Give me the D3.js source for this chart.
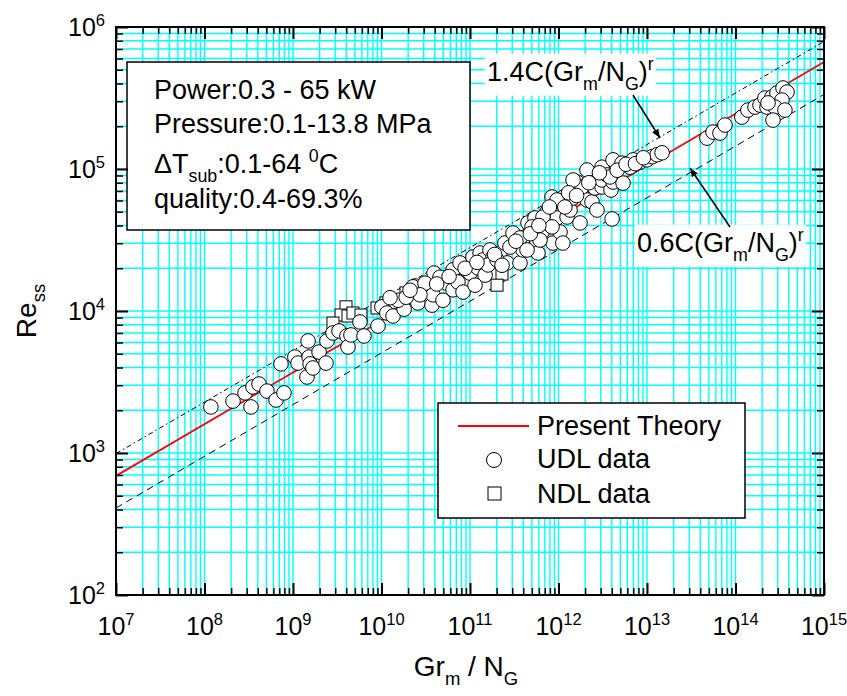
<!DOCTYPE html>
<html>
<head>
<meta charset="utf-8">
<script src="https://cdnjs.cloudflare.com/ajax/libs/d3/7.8.5/d3.min.js"></script>
<style>
    body { margin: 0; background: #fff; }
    svg text { font-family: "Liberation Sans", Arial, sans-serif; fill: #000; }
</style>
</head>
<body>
<div id="chart"></div>
<script>

// UDL data (circles)
const udlX = [1.18e8, 2.10e8, 3.35e8, 2.87e8, 3.53e8, 4.13e8, 5.08e8, 6.43e8, 7.91e8, 7.31e8,
    1.05e9, 1.14e9, 1.44e9, 1.52e9, 1.56e9, 1.48e9, 1.68e9, 1.97e9, 2.36e9, 2.42e9,
    2.83e9, 3.31e9, 4.07e9, 4.18e9, 4.52e9, 5.71e9, 6.34e9, 9.13e9, 1.01e10, 1.15e10,
    1.35e10, 1.80e10, 2.39e10, 2.58e10, 3.18e10, 3.72e10, 3.82e10, 3.92e10, 4.95e10, 5.22e10,
    2.27e10, 3.10e10, 4.58e10, 5.50e10, 6.43e10, 6.43e10, 7.71e10, 9.25e10, 1.00e11, 1.08e11,
    1.23e11, 1.30e11, 1.40e11, 1.48e11, 1.68e11, 1.82e11, 2.18e11, 2.48e11, 2.62e11, 3.06e11,
    3.40e11, 3.67e11, 3.97e11, 4.18e11, 4.52e11, 5.42e11, 5.71e11, 5.86e11, 6.52e11, 7.41e11,
    7.41e11, 8.45e11, 8.67e11, 9.62e11, 1.04e12, 1.04e12, 1.12e12, 1.15e12, 1.25e12, 1.35e12,
    1.46e12, 1.62e12, 1.75e12, 1.84e12, 2.10e12, 2.10e12, 2.39e12, 2.58e12, 2.72e12, 3.10e12,
    3.10e12, 3.10e12, 3.53e12, 3.92e12, 4.03e12, 4.13e12, 4.13e12, 5.22e12, 5.36e12, 6.43e12,
    6.95e12, 8.34e12, 1.00e13, 1.14e13, 1.30e13, 1.48e13, 3.82e12,
    4.76e13, 5.57e13, 6.68e13, 7.60e13, 1.18e14, 1.38e14, 1.66e14, 1.89e14, 2.15e14, 2.27e14,
    2.58e14, 2.94e14, 3.44e14, 3.82e14, 3.35e14, 2.79e14, 3.62e14, 2.65e14, 2.33e14,
    1.54e10, 2.72e10, 1.25e10, 7.31e10, 8.34e10, 1.14e11, 1.60e11, 2.02e11, 2.83e11, 5.02e11,
    6.68e11, 9.62e11, 1.18e12, 1.84e12, 1.46e12, 6.18e11, 8.45e11, 3.67e11, 4.41e11,
    1.9e10, 2.1e10, 4.2e10, 5.8e10, 8.8e10, 1.2e11, 1.9e11, 2.3e11, 3.3e11, 4.8e11,
    6.0e11, 7.9e11, 1.3e12, 1.6e12, 2.2e12, 2.9e12, 4.6e12, 5.8e12, 7.4e12, 9.1e12];
const udlY = [2.11e3, 2.32e3, 2.11e3, 2.65e3, 2.92e3, 3.06e3, 2.73e3, 2.36e3, 2.65e3, 4.24e3,
    4.74e3, 4.30e3, 3.43e3, 4.74e3, 4.24e3, 6.15e3, 3.97e3, 5.14e3, 4.30e3, 6.15e3,
    7.00e3, 7.23e3, 6.67e3, 5.58e3, 6.78e3, 8.37e3, 6.67e3, 7.84e3, 1.07e4, 9.68e3,
    9.22e3, 1.03e4, 1.50e4, 1.14e4, 1.48e4, 1.10e4, 1.30e4, 1.85e4, 1.19e4, 1.71e4,
    1.48e4, 1.57e4, 1.73e4, 1.57e4, 1.41e4, 1.95e4, 2.18e4, 1.65e4, 1.85e4, 2.40e4,
    2.01e4, 2.56e4, 2.29e4, 1.79e4, 2.69e4, 2.40e4, 2.56e4, 3.01e4, 2.18e4, 3.54e4,
    3.01e4, 2.18e4, 2.69e4, 3.32e4, 4.17e4, 4.52e4, 3.06e4, 2.56e4, 3.60e4, 4.98e4,
    4.17e4, 6.35e4, 3.01e4, 4.52e4, 5.86e4, 3.60e4, 3.01e4, 6.35e4, 4.59e4, 5.14e4,
    6.25e4, 8.09e4, 4.17e4, 7.11e4, 9.84e4, 6.05e4, 5.86e4, 7.35e4, 5.14e4, 1.03e5,
    7.47e4, 8.37e4, 9.08e4, 7.11e4, 4.45e4, 8.09e4, 1.16e5, 1.10e5, 7.96e4, 1.03e5,
    1.16e5, 1.12e5, 1.16e5, 1.22e5, 1.26e5, 1.30e5, 8.79e4,
    1.65e5, 1.82e5, 1.79e5, 2.04e5, 2.32e5, 2.60e5, 2.73e5, 2.82e5, 3.16e5, 2.73e5,
    3.21e5, 3.43e5, 3.72e5, 3.48e5, 3.06e5, 2.73e5, 2.60e5, 2.21e5, 2.92e5,
    1.19e4, 1.30e4, 1.24e4, 1.60e4, 1.36e4, 1.52e4, 2.11e4, 2.29e4, 2.82e4, 3.91e4,
    4.59e4, 6.05e4, 5.40e4, 7.47e4, 8.37e4, 3.16e4, 3.91e4, 3.27e4, 2.69e4,
    1.25e4, 1.40e4, 1.55e4, 1.75e4, 2.0e4, 2.2e4, 2.5e4, 2.1e4, 3.1e4, 3.5e4,
    4.0e4, 5.4e4, 6.8e4, 6.5e4, 8.0e4, 9.4e4, 9.8e4, 1.08e5, 1.09e5, 1.20e5];

// NDL data (squares)
const ndlX = [3.97e9, 3.49e9, 2.83e9, 4.18e9, 4.76e9, 5.86e9, 8.89e9, 1.12e10, 1.42e10, 1.89e10, 2.30e11, 2.02e11];
const ndlY = [1.07e4, 9.37e3, 8.23e3, 9.22e3, 9.68e3, 9.37e3, 1.05e4, 1.14e4, 1.14e4, 1.34e4, 1.82e4, 1.52e4];

// straight lines on log-log axes, end points read at the frame edges
const lineX = [1e7, 1e15];
const theoryY = [690, 5.67e5];
const upperY = [990, 7.9e5];
const lowerY = [410, 3.35e5];

const xDomain = [1e7, 1e15];
const yDomain = [1e2, 1e6];
const xTickExps = [7, 8, 9, 10, 11, 12, 13, 14, 15];
const yTickExps = [2, 3, 4, 5, 6];

const infoLines = [
    [{t: "Power:0.3 - 65 kW"}],
    [{t: "Pressure:0.1-13.8 MPa"}],
    [{t: "\u0394T"}, {t: "sub", sub: true}, {t: ":0.1-64 "}, {t: "0", sup: true}, {t: "C"}],
    [{t: "quality:0.4-69.3%"}]
];
const legendItems = ["Present Theory", "UDL data", "NDL data"];


function richText(parent, parts, x, y, size, anchor) {
    let t = parent.append("text")
        .attr("x", x)
        .attr("y", y)
        .attr("font-size", size)
        .attr("text-anchor", anchor || "start");
    let shift = 0;
    parts.forEach(p => {
        let target = p.sub ? size * 0.32 : (p.sup ? -size * 0.42 : 0);
        t.append("tspan")
            .attr("dy", target - shift)
            .attr("font-size", (p.sub || p.sup) ? size * 0.66 : size)
            .text(p.t);
        shift = target;
    });
    return t;
}

function withBackground(parent, textSel, pad) {
    let b = textSel.node().getBBox();
    parent.insert("rect", () => textSel.node())
        .attr("x", b.x - pad)
        .attr("y", b.y - pad + 2)
        .attr("width", b.width + pad * 2)
        .attr("height", b.height + pad * 2 - 2)
        .attr("fill", "#fff");
}

const totalW = 847, totalH = 696;
const margin = {top: 27, right: 23, bottom: 101, left: 116};
const width = totalW - margin.left - margin.right;
const height = totalH - margin.top - margin.bottom;

const svg = d3.select("#chart").append("svg")
    .attr("width", totalW)
    .attr("height", totalH);

const plot = svg.append("g")
    .attr("transform", `translate(${margin.left},${margin.top})`);

const xScale = d3.scaleLog().domain(xDomain).range([0, width]);
const yScale = d3.scaleLog().domain(yDomain).range([height, 0]);

const xAll = xScale.ticks();
const yAll = yScale.ticks();
const xMajor = xTickExps.map(e => Math.pow(10, e));
const yMajor = yTickExps.map(e => Math.pow(10, e));
const isMajor = v => Math.abs(Math.log10(v) - Math.round(Math.log10(v))) < 1e-9;

// cyan grid
plot.append("g").selectAll("line")
    .data(xAll)
    .join("line")
    .attr("x1", d => xScale(d)).attr("x2", d => xScale(d))
    .attr("y1", 0).attr("y2", height)
    .attr("stroke", "#00ffff").attr("stroke-width", 1.4);

plot.append("g").selectAll("line")
    .data(yAll)
    .join("line")
    .attr("y1", d => yScale(d)).attr("y2", d => yScale(d))
    .attr("x1", 0).attr("x2", width)
    .attr("stroke", "#00ffff").attr("stroke-width", 1.4);

// lines
const line = d3.line()
    .x(d => xScale(d[0]))
    .y(d => yScale(d[1]));

plot.append("path")
    .datum(d3.zip(lineX, upperY))
    .attr("fill", "none").attr("stroke", "#000").attr("stroke-width", 1)
    .attr("stroke-dasharray", "5,3,1.5,3")
    .attr("d", line);

plot.append("path")
    .datum(d3.zip(lineX, lowerY))
    .attr("fill", "none").attr("stroke", "#000").attr("stroke-width", 1)
    .attr("stroke-dasharray", "7,5")
    .attr("d", line);

plot.append("path")
    .datum(d3.zip(lineX, theoryY))
    .attr("fill", "none").attr("stroke", "#ff0000").attr("stroke-width", 1.8)
    .attr("d", line);

// points
const sq = 12;
plot.append("g").selectAll("rect")
    .data(d3.zip(ndlX, ndlY))
    .join("rect")
    .attr("x", d => xScale(d[0]) - sq / 2)
    .attr("y", d => yScale(d[1]) - sq / 2)
    .attr("width", sq).attr("height", sq)
    .attr("fill", "#fff").attr("stroke", "#000").attr("stroke-width", 1);

plot.append("g").selectAll("circle")
    .data(d3.zip(udlX, udlY))
    .join("circle")
    .attr("cx", d => xScale(d[0]))
    .attr("cy", d => yScale(d[1]))
    .attr("r", 7.3)
    .attr("fill", "#fff").attr("stroke", "#000").attr("stroke-width", 1);

// info box
const info = plot.append("g");
info.append("rect")
    .attr("x", 11).attr("y", 35)
    .attr("width", 343).attr("height", 168)
    .attr("fill", "#fff").attr("stroke", "#000").attr("stroke-width", 1.5);
const infoBase = [72, 106, 146, 181];
infoLines.forEach((parts, i) => richText(info, parts, 38, infoBase[i], 27));

// annotations
const notes = plot.append("g");
const n1 = richText(notes, [{t: "1.4C(Gr"}, {t: "m", sub: true}, {t: "/N"}, {t: "G", sub: true}, {t: ")"}, {t: "r", sup: true}], 371, 54, 27);
withBackground(notes, n1, 2);
const n2 = richText(notes, [{t: "0.6C(Gr"}, {t: "m", sub: true}, {t: "/N"}, {t: "G", sub: true}, {t: ")"}, {t: "r", sup: true}], 521, 225, 27);
withBackground(notes, n2, 2);

svg.append("defs").append("marker")
    .attr("id", "head")
    .attr("viewBox", "0 0 10 10")
    .attr("refX", 10).attr("refY", 5)
    .attr("markerWidth", 9).attr("markerHeight", 9)
    .attr("markerUnits", "userSpaceOnUse")
    .attr("orient", "auto")
    .append("path")
    .attr("d", "M0,1 L10,5 L0,9 Z")
    .attr("fill", "#000");

notes.append("line")
    .attr("x1", 517).attr("y1", 68).attr("x2", 544).attr("y2", 111)
    .attr("stroke", "#000").attr("stroke-width", 1.5)
    .attr("marker-end", "url(#head)");
notes.append("line")
    .attr("x1", 614).attr("y1", 200).attr("x2", 574).attr("y2", 141)
    .attr("stroke", "#000").attr("stroke-width", 1.5)
    .attr("marker-end", "url(#head)");

// legend
const legend = plot.append("g").attr("transform", "translate(322,376)");
legend.append("rect")
    .attr("width", 307).attr("height", 115)
    .attr("fill", "#fff").attr("stroke", "#000").attr("stroke-width", 1.5);
legend.append("line")
    .attr("x1", 20).attr("x2", 91).attr("y1", 23).attr("y2", 23)
    .attr("stroke", "#ff0000").attr("stroke-width", 1.8);
legend.append("circle")
    .attr("cx", 56).attr("cy", 57).attr("r", 7.5)
    .attr("fill", "#fff").attr("stroke", "#000").attr("stroke-width", 1);
legend.append("rect")
    .attr("x", 50).attr("y", 84).attr("width", 13).attr("height", 13)
    .attr("fill", "#fff").attr("stroke", "#000").attr("stroke-width", 1);
legendItems.forEach((name, i) => {
    legend.append("text")
        .attr("x", 99).attr("y", [32, 65, 100][i])
        .attr("font-size", 27)
        .text(name);
});

// axes: ticks inward on all four sides
function drawAxis(axisFn, scale, values, size, transform) {
    let g = plot.append("g")
        .attr("transform", transform)
        .call(axisFn(scale).tickValues(values).tickSize(size).tickSizeOuter(0).tickFormat(""));
    g.select(".domain").remove();
    g.selectAll(".tick line").attr("stroke", "#000").attr("stroke-width", size === -12 ? 2 : 1.5);
    return g;
}

const xMinor = xAll.filter(v => !isMajor(v));
const yMinor = yAll.filter(v => !isMajor(v));

drawAxis(d3.axisBottom, xScale, xMinor, -7, `translate(0,${height})`);
drawAxis(d3.axisBottom, xScale, xMajor, -12, `translate(0,${height})`);
drawAxis(d3.axisTop, xScale, xMinor, -7, "translate(0,0)");
drawAxis(d3.axisTop, xScale, xMajor, -12, "translate(0,0)");
drawAxis(d3.axisLeft, yScale, yMinor, -7, "translate(0,0)");
drawAxis(d3.axisLeft, yScale, yMajor, -12, "translate(0,0)");
drawAxis(d3.axisRight, yScale, yMinor, -7, `translate(${width},0)`);
drawAxis(d3.axisRight, yScale, yMajor, -12, `translate(${width},0)`);

plot.append("rect")
    .attr("width", width).attr("height", height)
    .attr("fill", "none").attr("stroke", "#000").attr("stroke-width", 2);

// tick labels
xTickExps.forEach(e => {
    richText(plot, [{t: "10"}, {t: String(e), sup: true}], xScale(Math.pow(10, e)), height + 40, 25, "middle");
});
yTickExps.forEach(e => {
    richText(plot, [{t: "10"}, {t: String(e), sup: true}], -11, yScale(Math.pow(10, e)) + 9, 25, "end");
});

// axis titles
richText(svg, [{t: "Gr"}, {t: "m", sub: true}, {t: " / N"}, {t: "G", sub: true}], 466, 676, 28, "middle");
richText(svg.append("g").attr("transform", "translate(36,311) rotate(-90)"),
    [{t: "Re"}, {t: "ss", sub: true}], 0, 0, 28, "middle");

</script>
</body>
</html>
